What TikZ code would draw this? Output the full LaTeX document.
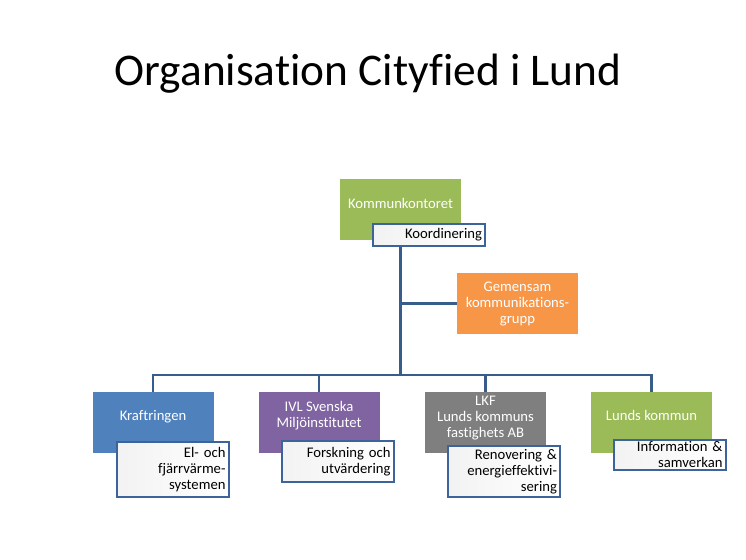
\documentclass[tikz,border=0pt]{standalone}
\usepackage{fontspec}
\setmainfont{Carlito}[Ligatures=NoCommon]
\definecolor{kgreen}{RGB}{155,187,89}
\definecolor{korange}{RGB}{247,150,70}
\definecolor{kblue}{RGB}{79,129,189}
\definecolor{kpurple}{RGB}{128,100,162}
\definecolor{kgray}{RGB}{127,127,127}
\definecolor{kline}{RGB}{56,93,138}
\definecolor{kframe}{RGB}{60,100,155}

\begin{document}
\begin{tikzpicture}[x=0.75pt,y=-0.75pt,
  orgbox/.style={fill=#1,text=white,align=center,minimum width=90.75pt,
    minimum height=45.75pt,inner sep=0pt,font=\fontsize{11}{12}\selectfont},
  taskbox/.style={draw=kframe,line width=1.5pt,left color=black!5,right color=white,
    text width=79.5pt,align=right,inner xsep=2.25pt,inner ysep=0pt,
    minimum height=#1,font=\fontsize{11}{12}\selectfont},
  link/.style={draw=kline,line width=1.9pt}]
  \fill[white] (0,0) rectangle (746,560);
  \useasboundingbox (0,0) rectangle (746,560);
  % title
  \node[anchor=base,font=\fontsize{34}{40}\selectfont] (title) at (368,86) {Organisation Cityfied i Lund};
  % top of the tree
  \node[orgbox=kgreen,text depth=9pt] (komm) at (400.5,209.5) {Kommunkontoret};
  \node[taskbox=16.5pt] (koord) at (429,235) {Koordinering};
  \node[orgbox=korange] (gem) at (517.5,303.5) {Gemensam\\kommunikations-\\grupp};
  % partners
  \node[orgbox=kblue,text depth=10.6pt] (kraft) at (153,422.5) {Kraftringen};
  \node[orgbox=kpurple,text depth=11.8pt] (ivl) at (319,422.5) {IVL Svenska\\Miljöinstitutet};
  \node[orgbox=kgray,text depth=9.2pt] (lkf) at (485.5,422.5) {LKF\\Lunds kommuns\\fastighets AB};
  \node[orgbox=kgreen,text depth=10.6pt] (lunds) at (651.5,422.5) {Lunds kommun};
  \node[taskbox=41.25pt] (kraftsub) at (172.5,469.5) {El- och\\fjärrvärme-\\systemen};
  \node[taskbox=30.75pt] (ivlsub) at (337.5,461.5) {Forskning och\\utvärdering};
  \node[taskbox=38.25pt] (lkfsub) at (504,471.5) {Renovering \&\\energieffektivi-\\sering};
  \node[taskbox=22.5pt] (lundssub) at (669.5,455) {Information \&\\samverkan};
  % lines
  \coordinate (bus) at (400.5,375);
  \draw[link] (koord.south -| komm.south) -- (bus);
  \draw[link] (gem.west -| bus) -- (gem.west);
  \draw[link] (kraft.north) -- (kraft.north |- bus) -- (lunds.north |- bus) -- (lunds.north);
  \draw[link] (ivl.north) -- (ivl.north |- bus);
  \draw[link] (lkf.north) -- (lkf.north |- bus);
\end{tikzpicture}
\end{document}
